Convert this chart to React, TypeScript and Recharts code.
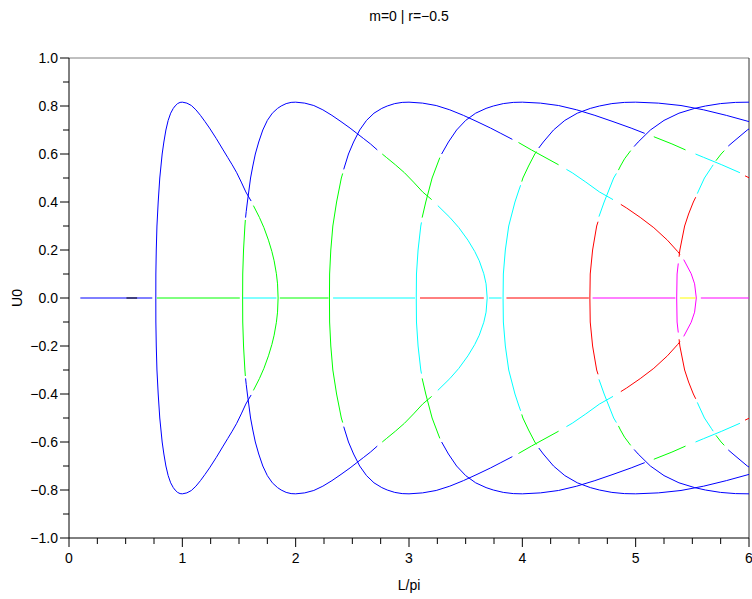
import React from 'react';
import { LineChart, Line, XAxis, YAxis, ReferenceLine } from 'recharts';

type P = [number, number];
type Seg = { c: number; p: P[] };

// stability class (Scilab colour index): 1 black, 2 blue, 3 green, 4 cyan, 5 red, 6 magenta, 7 yellow
const PALETTE: Record<number, string> = {
  1: '#000000', 2: '#0000ff', 3: '#00ff00', 4: '#00ffff', 5: '#ff0000', 6: '#ff00ff', 7: '#ffff00',
};

// trivial branch U0 = 0 : [class, L/pi start, L/pi end]
const trivialBranch: [number, number, number][] = [
  [2, 0.1, 0.735], [1, 0.507, 0.601], [3, 0.775, 1.507], [4, 1.536, 1.83], [3, 1.86, 2.29],
  [4, 2.33, 3.053], [5, 3.097, 3.66], [4, 3.705, 3.817], [5, 3.86, 4.587], [6, 4.62, 5.35],
  [7, 5.39, 5.53], [6, 5.575, 6.0],
];

// upper halves (U0 >= 0) of each bifurcating branch, [L/pi, U0]
const branch1: Seg[] = [
  { c: 2, p: [[0.766, 0], [0.7665, 0.1], [0.77, 0.2], [0.776, 0.3], [0.787, 0.4], [0.801, 0.5], [0.822, 0.6], [0.837, 0.65], [0.855, 0.7], [0.875, 0.74], [0.897, 0.77], [0.92, 0.79], [0.936, 0.8], [0.958, 0.81], [0.98, 0.815], [1.0, 0.816], [1.04, 0.812], [1.08, 0.802], [1.12, 0.784], [1.16, 0.761], [1.2, 0.735], [1.24, 0.708], [1.3, 0.664], [1.36, 0.617], [1.4, 0.586], [1.44, 0.555], [1.48, 0.522], [1.52, 0.483], [1.56, 0.442], [1.607, 0.404]] },
  { c: 3, p: [[1.627, 0.385], [1.68, 0.336], [1.72, 0.293], [1.76, 0.241], [1.79, 0.194], [1.81, 0.155], [1.83, 0.101], [1.84, 0.059], [1.845, 0]] },
];
const branch2: Seg[] = [
  { c: 3, p: [[1.532, 0], [1.533, 0.1], [1.54, 0.2], [1.546, 0.25], [1.552, 0.3], [1.556, 0.325]] },
  { c: 2, p: [[1.558, 0.335], [1.5636, 0.36], [1.574, 0.4], [1.588, 0.45], [1.602, 0.5], [1.622, 0.55], [1.644, 0.6], [1.674, 0.65], [1.71, 0.7], [1.75, 0.74], [1.794, 0.77], [1.84, 0.79], [1.872, 0.8], [1.916, 0.81], [1.96, 0.815], [2.0, 0.816], [2.08, 0.812], [2.16, 0.802], [2.24, 0.784], [2.32, 0.761], [2.4, 0.735], [2.48, 0.708], [2.54, 0.686], [2.6, 0.664], [2.66, 0.642], [2.72, 0.617]] },
  { c: 3, p: [[2.764, 0.6], [2.8, 0.586], [2.88, 0.555], [2.96, 0.522], [3.04, 0.483], [3.12, 0.442], [3.2, 0.41]] },
  { c: 4, p: [[3.254, 0.385], [3.36, 0.336], [3.44, 0.293], [3.52, 0.241], [3.58, 0.194], [3.62, 0.155], [3.66, 0.101], [3.68, 0.059], [3.69, 0]] },
];
const branch3: Seg[] = [
  { c: 3, p: [[2.298, 0], [2.2995, 0.1], [2.31, 0.2], [2.328, 0.3], [2.361, 0.4], [2.382, 0.45], [2.403, 0.5], [2.415, 0.519]] },
  { c: 2, p: [[2.424, 0.536], [2.433, 0.55], [2.466, 0.6], [2.511, 0.65], [2.565, 0.7], [2.625, 0.74], [2.691, 0.77], [2.76, 0.79], [2.808, 0.8], [2.874, 0.81], [2.94, 0.815], [3.0, 0.816], [3.12, 0.812], [3.24, 0.802], [3.36, 0.784], [3.48, 0.761], [3.6, 0.735], [3.72, 0.708], [3.81, 0.686], [3.912, 0.661]] },
  { c: 3, p: [[3.966, 0.648], [4.08, 0.617], [4.2, 0.586], [4.32, 0.555]] },
  { c: 4, p: [[4.389, 0.536], [4.44, 0.522], [4.56, 0.483], [4.68, 0.442], [4.8, 0.41]] },
  { c: 5, p: [[4.869, 0.39], [4.92, 0.375], [5.04, 0.336], [5.16, 0.293], [5.28, 0.241], [5.37, 0.194], [5.391, 0.182]] },
  { c: 6, p: [[5.424, 0.16], [5.49, 0.101], [5.52, 0.059], [5.535, 0]] },
];
const branch4: Seg[] = [
  { c: 4, p: [[3.064, 0], [3.066, 0.1], [3.08, 0.2], [3.092, 0.25], [3.104, 0.3], [3.11, 0.315]] },
  { c: 3, p: [[3.116, 0.335], [3.148, 0.4], [3.176, 0.45], [3.204, 0.5], [3.244, 0.55], [3.272, 0.585]] },
  { c: 2, p: [[3.288, 0.6], [3.348, 0.65], [3.42, 0.7], [3.5, 0.74], [3.588, 0.77], [3.68, 0.79], [3.744, 0.8], [3.832, 0.81], [3.92, 0.815], [4.0, 0.816], [4.16, 0.812], [4.32, 0.802], [4.48, 0.784], [4.64, 0.761], [4.8, 0.735], [4.96, 0.708], [5.08, 0.686]] },
  { c: 3, p: [[5.16, 0.672], [5.32, 0.642], [5.44, 0.617]] },
  { c: 4, p: [[5.528, 0.6], [5.6, 0.586], [5.76, 0.555], [5.92, 0.522]] },
  { c: 5, p: [[5.965, 0.509], [6.08, 0.483]] },
];
const branch5: Seg[] = [
  { c: 4, p: [[3.83, 0], [3.8325, 0.1], [3.85, 0.2], [3.88, 0.3], [3.935, 0.4], [3.97, 0.45], [3.985, 0.47]] },
  { c: 3, p: [[3.995, 0.485], [4.005, 0.5], [4.055, 0.55], [4.11, 0.6], [4.125, 0.61]] },
  { c: 2, p: [[4.145, 0.625], [4.185, 0.65], [4.275, 0.7], [4.375, 0.74], [4.485, 0.77], [4.6, 0.79], [4.68, 0.8], [4.79, 0.81], [4.9, 0.815], [5.0, 0.816], [5.2, 0.812], [5.4, 0.802], [5.6, 0.784], [5.8, 0.761], [6.0, 0.735], [6.2, 0.708]] },
];
const branch6: Seg[] = [
  { c: 5, p: [[4.596, 0], [4.599, 0.1], [4.62, 0.2], [4.638, 0.25], [4.656, 0.3], [4.668, 0.318]] },
  { c: 4, p: [[4.676, 0.339], [4.722, 0.4], [4.764, 0.45], [4.806, 0.5], [4.83, 0.519]] },
  { c: 3, p: [[4.848, 0.533], [4.866, 0.55], [4.902, 0.58], [4.956, 0.614]] },
  { c: 2, p: [[4.986, 0.631], [5.022, 0.65], [5.13, 0.7], [5.25, 0.74], [5.382, 0.77], [5.52, 0.79], [5.616, 0.8], [5.748, 0.81], [5.88, 0.815], [6.0, 0.816], [6.24, 0.812]] },
];
const branch7: Seg[] = [
  { c: 6, p: [[5.362, 0], [5.3655, 0.1], [5.376, 0.144]] },
  { c: 5, p: [[5.383, 0.172], [5.39, 0.2], [5.411, 0.25], [5.432, 0.3], [5.467, 0.35], [5.509, 0.4], [5.53, 0.42]] },
  { c: 4, p: [[5.544, 0.435], [5.558, 0.45], [5.607, 0.5], [5.67, 0.545], [5.684, 0.555]] },
  { c: 3, p: [[5.708, 0.572], [5.754, 0.6], [5.782, 0.614]] },
  { c: 2, p: [[5.817, 0.633], [5.859, 0.65], [5.985, 0.7], [6.125, 0.74]] },
];

const xTicks = [0, 0.25, 0.5, 0.75, 1, 1.25, 1.5, 1.75, 2, 2.25, 2.5, 2.75, 3, 3.25, 3.5, 3.75, 4, 4.25, 4.5, 4.75, 5, 5.25, 5.5, 5.75, 6];
const yTicks = [-1, -0.9, -0.8, -0.7, -0.6, -0.5, -0.4, -0.3, -0.2, -0.1, 0, 0.1, 0.2, 0.3, 0.4, 0.5, 0.6, 0.7, 0.8, 0.9, 1];

const FONT = '"Liberation Sans", Arial, Helvetica, sans-serif';

type Row = { x: number; u: number };
const series: { color: string; data: Row[] }[] = [];
[branch1, branch2, branch3, branch4, branch5, branch6, branch7].forEach((br) =>
  br.forEach((seg) => {
    const color = PALETTE[seg.c];
    series.push({ color, data: seg.p.map(([x, u]) => ({ x, u })) });
    series.push({ color, data: seg.p.map(([x, u]) => ({ x, u: -u })) });
  })
);
trivialBranch.forEach(([c, a, b]) => series.push({ color: PALETTE[c], data: [{ x: a, u: 0 }, { x: b, u: 0 }] }));

const XTick = (props: any) => {
  const { x, y, payload } = props;
  const v = payload.value as number;
  const major = Math.abs(v - Math.round(v)) < 1e-6;
  return (
    <g>
      <line x1={x} x2={x} y1={y} y2={y + (major ? 9 : 6)} stroke="#000" strokeWidth={1} />
      {major && (
        <text x={x} y={y + 25} textAnchor="middle" fontFamily={FONT} fontSize={14} fill="#000">
          {String(Math.round(v))}
        </text>
      )}
    </g>
  );
};

const YTick = (props: any) => {
  const { x, y, payload } = props;
  const v = payload.value as number;
  const major = Math.abs(v * 5 - Math.round(v * 5)) < 1e-6;
  const label = (Math.abs(v) < 1e-9 ? 0 : v).toFixed(1).replace('-', '\u2212');
  return (
    <g>
      <line x1={x - (major ? 9 : 6)} x2={x} y1={y} y2={y} stroke="#000" strokeWidth={1} />
      {major && (
        <text x={x - 11} y={y} dy="0.36em" textAnchor="end" fontFamily={FONT} fontSize={14} fill="#000">
          {label}
        </text>
      )}
    </g>
  );
};

export default function App() {
  return (
    <div style={{ position: 'absolute', left: 0, top: 0, width: 752, height: 599, background: '#fff' }}>
      <LineChart width={752} height={599} margin={{ top: 58, right: 3, bottom: 0, left: 0 }}>
        <XAxis
          dataKey="x"
          type="number"
          domain={[0, 6]}
          allowDataOverflow
          ticks={xTicks}
          interval={0}
          tick={<XTick />}
          tickLine={false}
          tickSize={0}
          tickMargin={0}
          height={61}
          axisLine={{ stroke: '#000' }}
        />
        <YAxis
          dataKey="u"
          type="number"
          domain={[-1, 1]}
          allowDataOverflow
          ticks={yTicks}
          interval={0}
          tick={<YTick />}
          tickLine={false}
          tickSize={0}
          tickMargin={0}
          width={69}
          axisLine={{ stroke: '#000' }}
        />
        <ReferenceLine y={1} stroke="#808080" strokeWidth={1} />
        <ReferenceLine x={6} stroke="#333333" strokeWidth={1} />
        {series.map((s, i) => (
          <Line
            key={i}
            data={s.data}
            dataKey="u"
            type="linear"
            stroke={s.color}
            strokeWidth={1}
            dot={false}
            activeDot={false}
            isAnimationActive={false}
            legendType="none"
          />
        ))}
      </LineChart>
      <div style={{ position: 'absolute', left: 409, top: 8, transform: 'translateX(-50%)', whiteSpace: 'nowrap', fontFamily: FONT, fontSize: 14, color: '#000' }}>
        m=0 | r=−0.5
      </div>
      <div style={{ position: 'absolute', left: 409, top: 577, transform: 'translateX(-50%)', whiteSpace: 'nowrap', fontFamily: FONT, fontSize: 14, color: '#000' }}>
        L/pi
      </div>
      <div style={{ position: 'absolute', left: 17, top: 298, transform: 'translate(-50%, -50%) rotate(-90deg)', whiteSpace: 'nowrap', fontFamily: FONT, fontSize: 14, color: '#000' }}>
        U0
      </div>
    </div>
  );
}
